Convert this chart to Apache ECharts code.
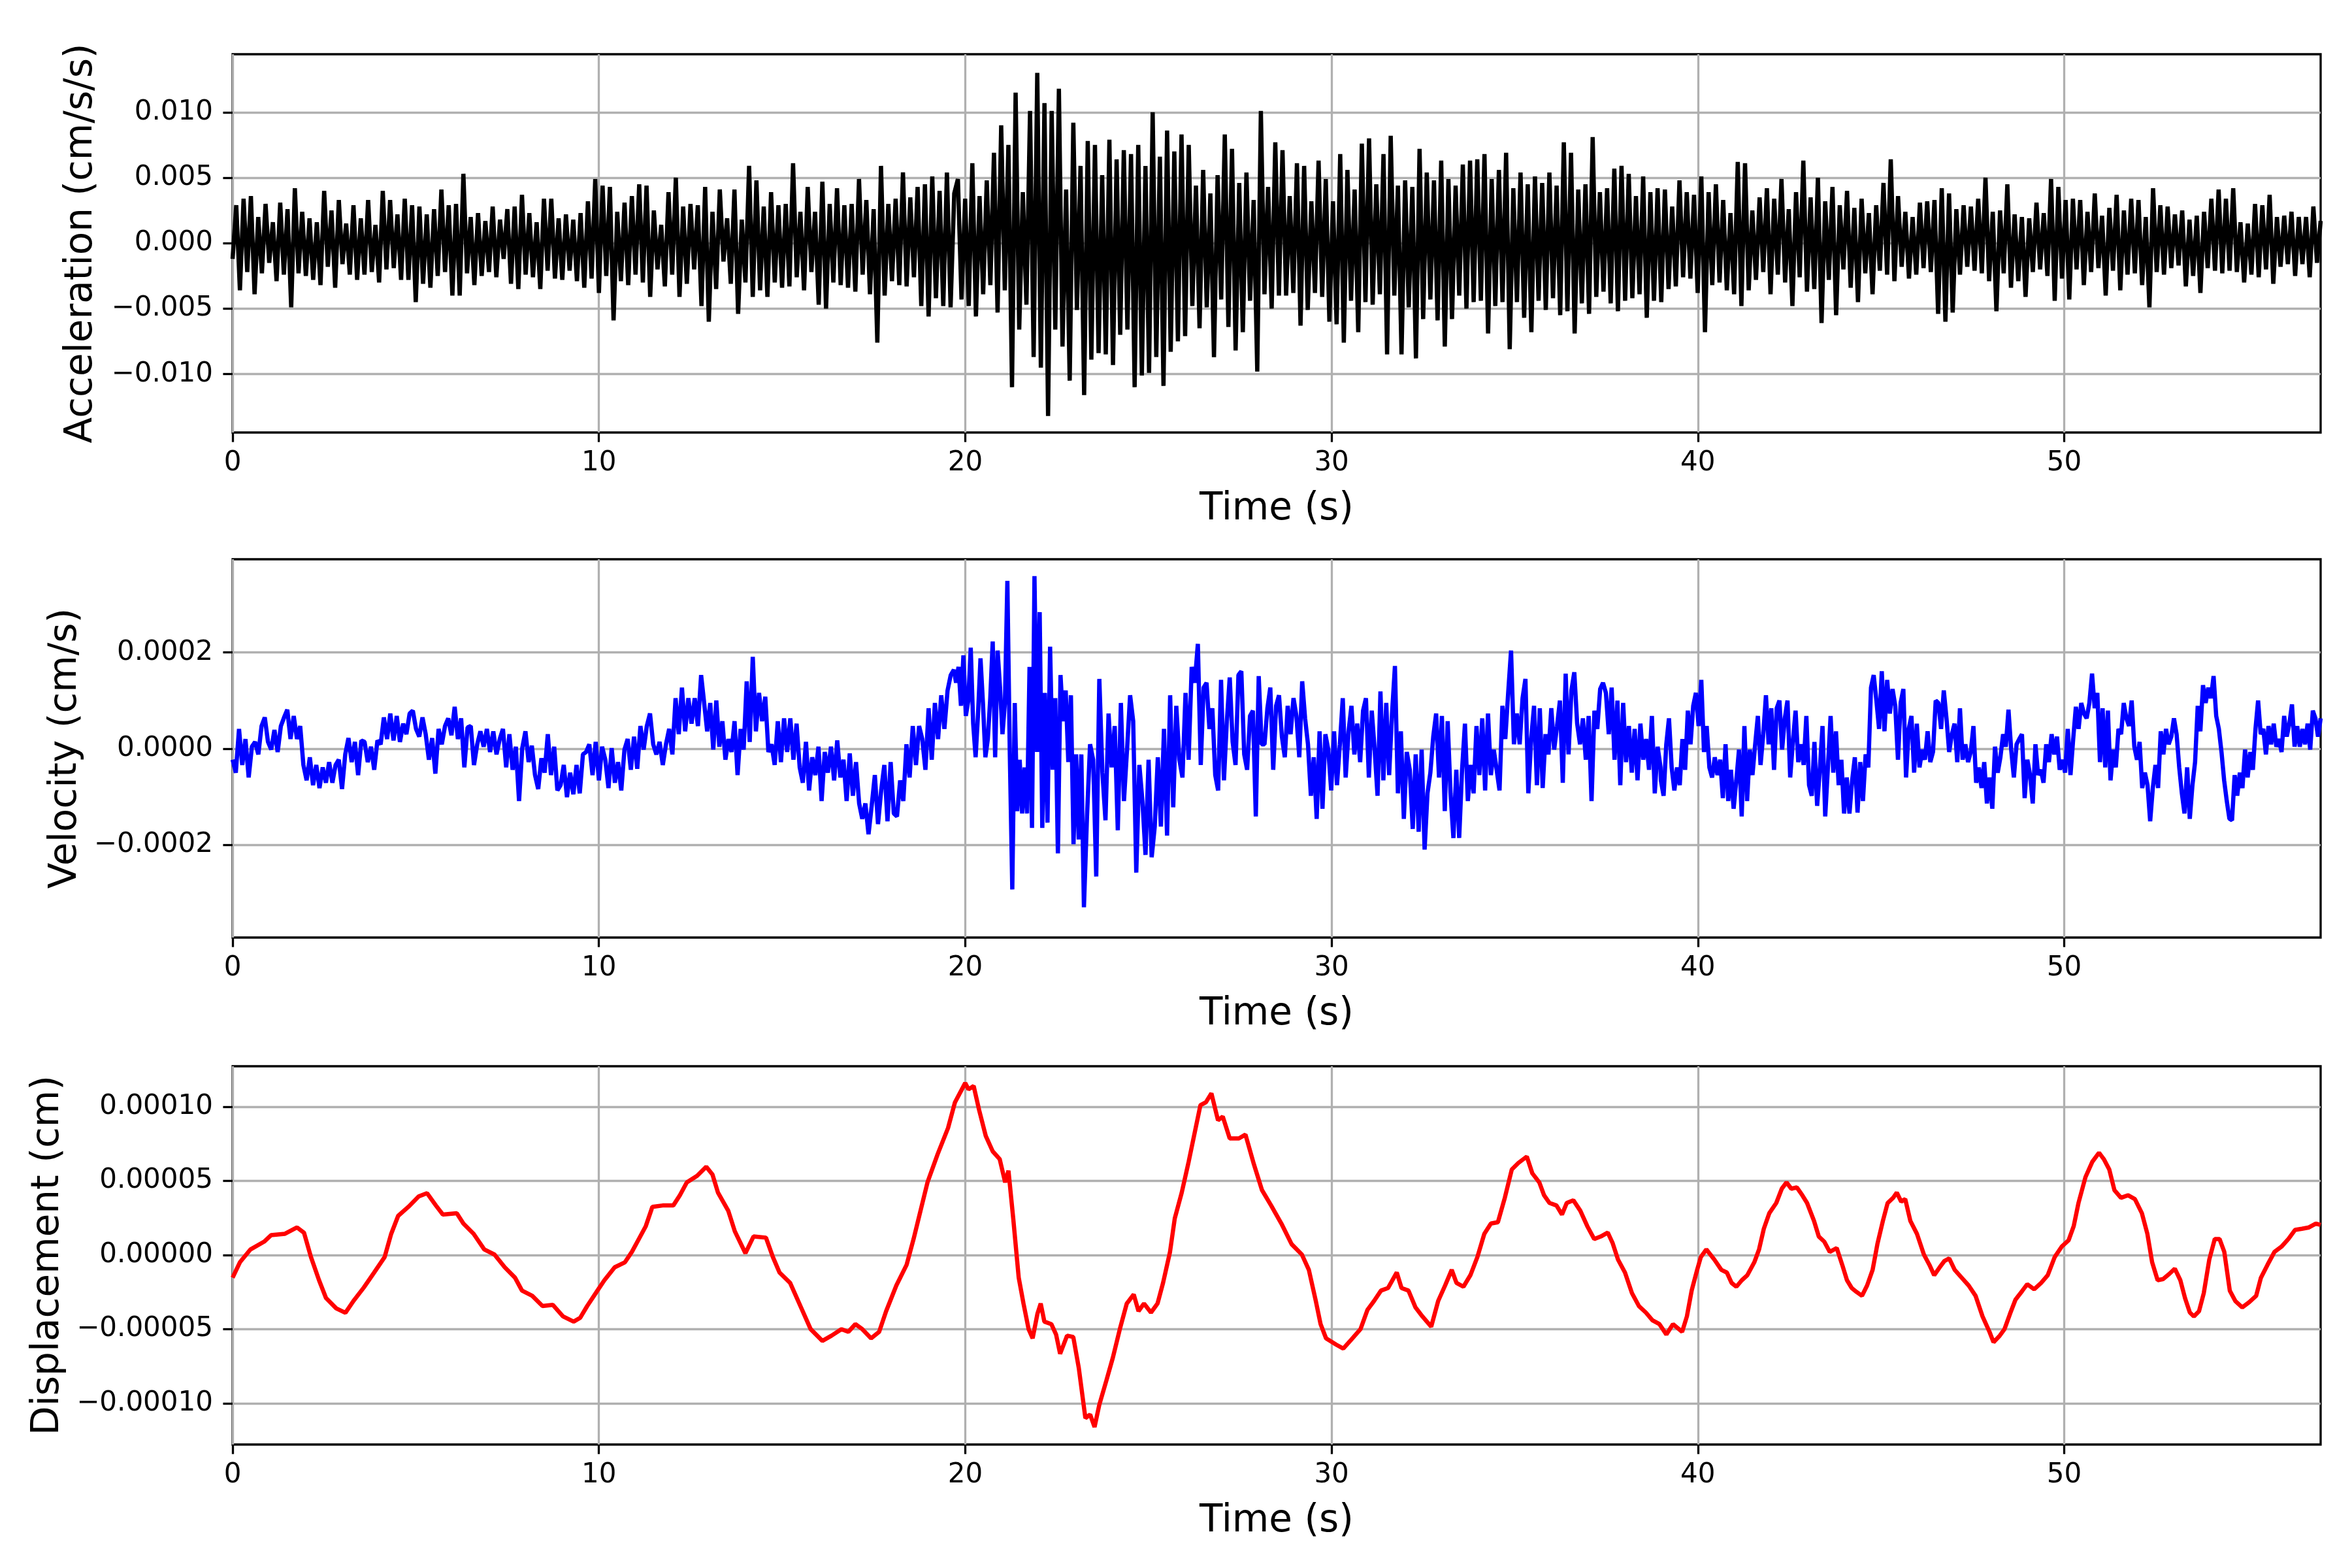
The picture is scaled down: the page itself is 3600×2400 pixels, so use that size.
<!DOCTYPE html>
<html>
<head>
    <meta charset="UTF-8">
    <script src="https://cdn.jsdelivr.net/npm/echarts/dist/echarts.min.js"></script>
    <style>
        html, body { margin: 0; padding: 0; background: #fff; }
        #container { width: 3600px; height: 2400px; }
    </style>
</head>
<body>
<div id="container"></div>

<script type="text/javascript">
    // tick values shown on the axes
    var timeTicks = [0, 10, 20, 30, 40, 50];
    var accelTicks = [-0.010, -0.005, 0, 0.005, 0.010];
    var velTicks = [-0.0002, 0, 0.0002];
    var dispTicks = [-0.00010, -0.00005, 0, 0.00005, 0.00010];

    // acceleration, in 1e-3 cm/s/s in three time spans
    var accelSpanA = [0, 19.7];
    var accelSegA = [-1.2, 2.9, -3.6, 3.4, -2.2, 3.6, -3.9, 2.0, -2.3, 3.0, -1.5, 1.6, -2.9, 3.1, -2.4, 2.6, -4.9, 4.2, -2.3, 2.4,
        -2.5, 1.9, -2.8, 1.6, -3.2, 4.0, -1.8, 2.5, -3.4, 3.3, -1.6, 1.5, -2.4, 2.9, -2.8, 1.9, -2.4, 3.3, -2.2, 1.4,
        -3.0, 4.0, -2.0, 3.3, -1.9, 2.2, -2.8, 3.4, -2.8, 2.9, -4.5, 2.8, -3.1, 2.2, -3.4, 2.6, -2.5, 4.1, -2.2, 2.9,
        -4.0, 3.0, -4.0, 5.3, -2.3, 2.0, -3.2, 2.3, -2.5, 1.7, -2.2, 2.8, -2.6, 1.8, -1.2, 2.6, -3.1, 2.8, -3.5, 3.7,
        -2.4, 2.3, -2.6, 1.6, -3.5, 3.4, -2.1, 3.4, -2.7, 1.9, -2.8, 2.2, -2.1, 1.8, -2.9, 2.3, -3.4, 3.2, -2.7, 4.9,
        -3.8, 4.4, -2.5, 4.3, -5.9, 2.4, -2.9, 3.1, -3.2, 3.6, -2.4, 4.5, -3.0, 4.4, -4.1, 2.5, -2.0, 1.4, -3.3, 3.9,
        -2.4, 5.0, -4.1, 2.8, -3.1, 3.0, -2.0, 2.9, -4.8, 4.3, -6.0, 2.4, -3.5, 4.1, -1.4, 1.9, -3.1, 4.1, -5.4, 1.8,
        -3.0, 5.9, -4.1, 4.8, -3.6, 2.8, -4.1, 3.9, -3.0, 2.9, -3.4, 3.0, -3.3, 6.1, -2.6, 2.4, -3.6, 4.3, -2.2, 2.4,
        -4.7, 4.7, -5.0, 3.0, -3.0, 4.2, -3.2, 2.9, -3.4, 3.0, -3.7, 4.9, -2.4, 3.3, -3.9, 2.6, -7.6, 5.9, -4.0, 3.0,
        -2.9, 3.4, -3.2, 5.4, -3.3, 3.5, -2.6, 4.3, -4.8, 4.5, -5.6, 5.1, -4.2, 4.0, -4.8, 5.4, -4.9, 3.8];
    var accelSpanB = [19.8, 38.9];
    var accelSegB = [4.9, -4.3, 3.4, -4.8, 6.1, -5.6, 3.6, -3.9, 4.8, -3.2, 6.9, -5.3, 9.0, -3.6, 7.5, -11.0, 11.5, -6.6, 3.9, -4.7,
        10.1, -8.7, 13.0, -9.5, 10.7, -13.2, 10.1, -6.6, 11.8, -7.9, 4.1, -10.5, 9.2, -5.1, 5.9, -11.6, 7.8, -8.9, 7.5, -8.4,
        5.2, -8.5, 7.9, -9.3, 6.4, -7.0, 7.1, -6.6, 6.8, -11.0, 7.5, -10.1, 5.9, -9.9, 10.0, -8.7, 6.6, -10.9, 8.6, -8.3,
        7.0, -7.5, 8.3, -7.1, 7.5, -4.8, 4.4, -6.5, 5.6, -4.9, 3.8, -8.7, 5.2, -4.3, 8.3, -6.4, 7.2, -8.2, 4.6, -6.8,
        5.4, -4.4, 3.3, -9.8, 10.1, -3.9, 4.3, -5.0, 7.7, -4.0, 7.1, -4.0, 3.6, -3.8, 6.1, -6.3, 5.9, -5.1, 3.2, -3.8,
        6.3, -4.1, 4.9, -6.0, 3.2, -6.2, 6.8, -7.6, 5.6, -4.4, 4.1, -6.8, 7.6, -4.5, 8.0, -4.7, 4.5, -3.9, 6.8, -8.5,
        8.2, -4.0, 4.4, -8.5, 4.8, -4.9, 4.3, -8.8, 7.2, -5.8, 5.4, -4.3, 4.8, -5.9, 6.3, -7.9, 4.9, -5.8, 4.4, -4.0,
        6.0, -5.0, 6.3, -4.5, 6.4, -4.4, 6.8, -6.9, 4.9, -4.8, 5.6, -4.5, 6.9, -8.1, 4.2, -4.5, 5.4, -5.7, 4.5, -6.8,
        5.1, -4.4, 4.6, -5.1, 5.4, -4.2, 4.4, -5.5, 7.7, -5.2, 6.9, -6.9, 4.1, -4.6, 4.5, -5.4, 8.1, -4.1, 3.9, -3.7,
        4.2, -4.6, 5.7, -5.2, 5.9, -4.4, 5.3, -4.2, 3.6, -3.9, 5.1, -5.7, 3.9, -4.4, 4.2];
    var accelSpanC = [39.0, 57.0];
    var accelSegC = [-4.5, 4.1, -3.5, 2.8, -3.3, 4.8, -2.6, 3.9, -2.7, 3.7, -3.8, 5.1, -6.8, 3.9, -3.2, 4.5, -3.0, 3.3, -3.6, 2.3,
        -3.9, 6.2, -4.8, 6.1, -3.6, 2.5, -2.8, 3.5, -2.2, 4.2, -3.9, 3.4, -2.4, 4.9, -3.0, 2.6, -4.8, 3.9, -2.6, 6.3,
        -3.7, 3.5, -3.5, 5.0, -6.1, 3.2, -2.8, 4.3, -5.5, 2.9, -2.0, 4.0, -3.4, 2.7, -4.5, 3.4, -2.3, 2.3, -3.9, 2.9,
        -2.1, 4.6, -2.4, 6.4, -2.9, 3.6, -1.8, 2.4, -2.7, 2.0, -2.4, 3.1, -1.9, 3.2, -2.2, 3.3, -5.4, 4.2, -6.0, 3.8,
        -5.3, 2.6, -2.4, 2.9, -1.8, 2.8, -2.1, 3.4, -2.3, 5.0, -2.9, 2.4, -5.2, 2.5, -2.3, 4.5, -3.4, 2.2, -2.9, 2.0,
        -4.1, 1.9, -2.2, 3.1, -2.0, 2.3, -2.5, 4.9, -4.4, 4.3, -2.7, 3.3, -4.3, 3.4, -2.0, 3.3, -3.2, 2.4, -2.2, 3.8,
        -1.9, 2.1, -4.0, 2.7, -2.1, 3.7, -3.6, 2.5, -2.4, 3.4, -2.3, 3.3, -3.2, 2.0, -4.9, 4.2, -2.2, 2.9, -2.4, 2.8,
        -1.9, 2.2, -1.7, 2.5, -3.3, 1.8, -2.5, 2.1, -3.8, 2.4, -1.9, 3.4, -2.1, 4.1, -2.3, 3.4, -2.1, 4.2, -2.2, 1.6,
        -3.0, 1.5, -2.4, 3.0, -2.6, 2.9, -2.0, 3.7, -3.1, 2.0, -1.8, 2.1, -1.6, 2.4, -2.5, 2.0, -1.6, 2.0, -2.6, 2.8,
        -1.5, 1.7];

    // velocity, in 1e-4 cm/s; anchors pin sample index -> time (s) at clear peaks
    var velAnchorsA = [[0, 0], [89, 7.82], [146, 12.79], [163, 14.20], [200, 17.36], [227, 19.69]];
    var velSegA = [-0.23, -0.5, 0.41, -0.34, 0.2, -0.6, 0.04, 0.14, -0.12, 0.47, 0.65, 0.14, -0.02, 0.39, -0.07, 0.47, 0.65, 0.81, 0.2, 0.68,
        0.2, 0.47, -0.34, -0.66, -0.18, -0.76, -0.34, -0.82, -0.39, -0.71, -0.28, -0.71, -0.34, -0.23, -0.84, -0.12, 0.22, -0.28, 0.14, -0.55,
        0.17, 0.14, -0.28, 0.04, -0.44, 0.17, 0.09, 0.65, 0.2, 0.73, 0.17, 0.68, 0.14, 0.52, 0.3, 0.73, 0.79, 0.41, 0.25, 0.65,
        0.3, -0.23, 0.22, -0.52, 0.41, 0.09, 0.47, 0.63, 0.28, 0.87, 0.2, 0.63, -0.39, 0.44, 0.47, -0.34, 0.09, 0.36, 0.04, 0.41,
        -0.07, 0.36, -0.12, 0.2, 0.41, -0.39, 0.3, -0.44, 0.04, -1.09, 0.01, 0.36, -0.28, 0.06, -0.55, -0.84, -0.2, -0.5, 0.3, -0.55,
        0.04, -0.87, -0.76, -0.34, -1.01, -0.5, -0.95, -0.34, -0.93, -0.12, -0.07, 0.09, -0.55, 0.14, -0.66, 0.04, -0.23, -0.82, 0.01, -0.71,
        -0.28, -0.87, -0.02, 0.2, -0.44, 0.25, -0.42, 0.47, -0.02, 0.47, 0.73, 0.09, -0.12, 0.14, -0.34, 0.09, 0.41, -0.12, 1.05, 0.3,
        1.27, 0.36, 1.05, 0.52, 1.05, 0.47, 1.53, 0.95, 0.36, 0.95, -0.02, 1.0, 0.04, 0.57, -0.23, 0.2, -0.07, 0.57, -0.55, 0.41,
        -0.02, 1.4, 0.14, 1.91, 0.36, 1.16, 0.57, 1.08, -0.07, 0.09, -0.34, 0.57, -0.28, 0.63, -0.07, 0.63, -0.23, 0.52, -0.39, -0.71,
        0.14, -0.87, -0.18, -0.55, 0.04, -1.09, -0.07, -0.5, 0.04, -0.66, 0.17, -0.6, -0.23, -1.09, -0.1, -0.98, -0.28, -1.14, -1.46, -1.14,
        -1.78, -1.19, -0.55, -1.57, -0.87, -0.34, -1.51, -0.28, -1.35, -1.41, -0.66, -1.09, 0.09, -0.6, 0.47, -0.34, 0.47, 0.2, -0.44, 0.84,
        -0.23, 0.95, 0.2, 1.11, 0.41, 1.21, 1.53, 1.64];
    var velAnchorsB = [[0, 19.75], [21, 21.15], [32, 21.89], [51, 23.24], [88, 26.35], [156, 31.73], [166, 32.54], [196, 34.90], [248, 38.98]];
    var velSegB = [1.37, 1.7, 0.89, 1.94, 0.68, 1.0, 2.1, 0.52, -0.18, 0.73, 1.88, 0.95, -0.18, 0.2, 1.05, 2.23, -0.18, 2.04, 1.27, 0.3,
        0.95, 3.49, -0.12, -2.93, 0.95, -1.3, -0.23, -1.35, -0.39, -1.35, 1.7, -1.65, 3.59, -0.07, 2.84, -1.65, 1.16, -1.54, 2.12, -0.44,
        1.05, -2.18, 1.53, 0.57, 1.21, -0.28, 1.11, -1.99, -0.12, -1.89, -0.12, -3.3, -1.41, 0.09, -0.23, -2.66, 1.45, -0.5, -1.49, 0.73,
        -0.39, 0.47, -1.7, 0.95, -1.09, -0.02, 1.11, 0.57, -2.58, -0.34, -1.09, -2.21, -0.23, -2.26, -1.62, -0.18, -1.62, 0.41, -1.81, 1.11,
        -1.22, 0.89, -0.23, -0.6, 1.16, -0.23, 1.7, 1.37, 2.18, -0.34, 1.27, 1.37, 0.41, 0.84, -0.55, -0.87, 1.43, -0.66, 0.57, 1.48,
        0.14, -0.34, 1.53, 1.61, -0.12, -0.44, 0.68, 0.79, -1.41, 1.51, 0.09, 0.09, 0.84, 1.27, -0.44, 0.89, 1.11, 0.25, -0.18, 0.89,
        0.3, 1.05, 0.68, -0.18, 1.4, 0.63, 0.09, -0.98, -0.18, -1.46, 0.36, -1.25, 0.3, -0.02, -0.87, 0.36, -0.76, 0.09, 1.05, -0.6,
        0.36, 0.89, -0.12, 0.52, -0.28, 0.79, 1.05, -0.6, 0.79, -0.02, -0.98, 1.19, -0.66, 0.95, -0.55, 0.73, 1.72, -0.93, 0.36, -1.46,
        -0.07, -0.44, -1.67, -0.12, -1.73, -0.02, -2.1, -0.93, -0.5, 0.25, 0.73, -0.6, 0.68, -1.3, 0.57, -0.93, -1.86, -0.44, -1.86, -0.44,
        0.52, -1.09, -0.34, -0.93, 0.47, -0.55, 0.63, -0.87, 0.73, -0.55, -0.02, -0.44, -0.87, 0.89, 0.2, 1.16, 2.04, 0.09, 0.73, 0.09,
        1.05, 1.45, -0.93, 0.2, 0.89, -0.76, 0.84, -0.82, 0.3, -0.12, 0.84, -0.02, 0.47, 1.0, -0.71, 1.56, -0.12, 1.21, 1.59, 0.52,
        0.09, 0.63, -0.23, 0.68, -1.09, 0.79, 0.41, 1.24, 1.37, 1.16, 0.3, 1.27, -0.23, 1.0, -0.76, 0.95, -0.28, 0.47, -0.5, 0.41,
        -0.66, 0.52, -0.23, 0.2, -0.44, 0.68, -0.93, 0.04, -0.39];
    var velAnchorsC = [[0, 38.99], [82, 45.02], [160, 50.76], [212, 54.51], [247, 57.0]];
    var velSegC = [-0.66, -0.98, 0.09, 0.63, -0.39, -0.87, -0.39, -0.76, 0.2, -0.44, 0.79, 0.09, 0.89, 1.16, 0.47, 1.43, -0.07, 0.47, -0.39, -0.6,
        -0.18, -0.55, -0.23, -1.03, 0.09, -1.09, -0.44, -1.25, -0.66, -0.02, -1.41, 0.47, -1.09, -0.02, -0.55, 0.09, 0.68, -0.34, 0.3, 1.11,
        0.09, 0.84, -0.44, 0.84, 1.0, -0.02, 0.63, 1.0, -0.6, 0.14, 0.79, -0.28, 0.09, -0.34, 0.68, -0.76, -0.98, 0.14, -1.19, -0.44,
        0.47, -1.41, -0.39, 0.68, -0.5, 0.36, -0.76, -0.23, -1.35, -0.6, -1.35, -0.66, -0.18, -1.33, -0.28, -1.09, -0.12, -0.39, 1.27, 1.53,
        1.0, 0.41, 1.61, 0.36, 1.43, 0.73, 1.24, 0.89, -0.23, 0.95, 1.24, -0.6, 0.41, 0.68, -0.5, 0.52, -0.39, -0.02, -0.23, 0.36,
        -0.28, -0.07, 1.0, 0.95, 0.41, 1.21, 0.63, -0.07, 0.3, 0.52, -0.28, 0.84, -0.23, 0.09, -0.28, -0.07, 0.47, -0.71, -0.39, -0.82,
        -0.28, -1.14, -0.6, -1.25, 0.04, -0.5, -0.18, 0.3, 0.04, 0.81, -0.02, -0.6, 0.09, 0.2, 0.3, -1.03, -0.23, -0.55, -1.14, 0.09,
        -0.55, -0.44, -0.71, 0.09, -0.28, 0.3, -0.12, 0.25, -0.44, -0.23, -0.5, 0.41, -0.55, 0.2, 0.87, 0.41, 0.95, 0.73, 0.63, 0.95,
        1.56, 0.84, 1.16, -0.28, 0.84, -0.39, 0.79, -0.66, -0.02, -0.39, 0.41, 0.3, 0.95, 0.63, 0.47, 1.0, 0.04, -0.23, 0.14, -0.82,
        -0.5, -0.76, -1.51, -0.82, -0.34, -0.82, 0.36, -0.12, 0.41, 0.09, 0.25, 0.63, 0.3, -0.39, -0.93, -1.35, -0.39, -1.46, -0.76, -0.28,
        0.89, 0.36, 1.32, 0.95, 1.27, 1.05, 1.51, 0.68, 0.41, -0.07, -0.66, -1.09, -1.46, -1.49, -0.55, -0.98, -0.5, -0.82, -0.02, -0.6,
        -0.07, -0.44, 0.41, 1.0, 0.3, 0.41, -0.12, 0.47, 0.09, 0.52, 0.04, 0.2, -0.07, 0.68, 0.25, 0.52, 0.92, 0.04, 0.47, 0.04,
        0.41, 0.09, 0.52, -0.02, 0.79, 0.63, 0.25, 0.63];

    // displacement, time (s) and value in 1e-5 cm
    var dispTime = [0, 0.2, 0.49, 0.86, 1.05, 1.43, 1.76, 1.95, 2.14, 2.36, 2.55, 2.83, 3.08, 3.3, 3.58, 3.86, 4.15, 4.33, 4.52, 4.8,
        5.08, 5.31, 5.55, 5.74, 6.12, 6.3, 6.58, 6.87, 7.15, 7.43, 7.71, 7.9, 8.18, 8.46, 8.74, 9.02, 9.31, 9.49, 9.68, 9.96,
        10.15, 10.43, 10.71, 10.9, 11.09, 11.28, 11.46, 11.74, 12.03, 12.21, 12.4, 12.68, 12.93, 13.1, 13.25, 13.53, 13.71, 14.0, 14.22, 14.56,
        14.75, 14.93, 15.22, 15.5, 15.78, 16.1, 16.35, 16.62, 16.81, 17.0, 17.19, 17.43, 17.65, 17.84, 18.12, 18.4, 18.59, 18.78, 18.97, 19.25,
        19.53, 19.72, 20.0, 20.09, 20.23, 20.38, 20.56, 20.75, 20.94, 21.09, 21.18, 21.31, 21.46, 21.59, 21.73, 21.84, 21.97, 22.06, 22.16, 22.35,
        22.48, 22.59, 22.78, 22.95, 23.1, 23.28, 23.41, 23.53, 23.66, 23.85, 24.03, 24.22, 24.41, 24.6, 24.73, 24.88, 25.07, 25.25, 25.4, 25.59,
        25.72, 25.91, 26.1, 26.29, 26.42, 26.57, 26.72, 26.9, 27.03, 27.22, 27.47, 27.65, 27.88, 28.1, 28.35, 28.63, 28.91, 29.19, 29.38, 29.57,
        29.7, 29.85, 30.13, 30.32, 30.54, 30.79, 30.98, 31.16, 31.35, 31.54, 31.78, 31.91, 32.1, 32.29, 32.48, 32.72, 32.91, 33.1, 33.28, 33.41,
        33.6, 33.79, 33.98, 34.17, 34.35, 34.54, 34.73, 34.92, 35.1, 35.33, 35.48, 35.67, 35.8, 35.95, 36.14, 36.29, 36.42, 36.6, 36.79, 36.98,
        37.17, 37.35, 37.54, 37.67, 37.82, 38.01, 38.2, 38.39, 38.58, 38.76, 38.95, 39.14, 39.32, 39.57, 39.7, 39.83, 39.98, 40.08, 40.23, 40.45,
        40.64, 40.79, 40.92, 41.05, 41.2, 41.35, 41.54, 41.67, 41.8, 41.95, 42.14, 42.29, 42.42, 42.55, 42.7, 42.85, 42.98, 43.17, 43.3, 43.45,
        43.6, 43.79, 43.94, 44.07, 44.2, 44.33, 44.48, 44.62, 44.77, 44.9, 45.05, 45.18, 45.33, 45.43, 45.55, 45.66, 45.8, 45.98, 46.17, 46.32,
        46.45, 46.6, 46.73, 46.86, 47.01, 47.2, 47.39, 47.58, 47.77, 47.96, 48.07, 48.24, 48.37, 48.52, 48.67, 48.86, 48.99, 49.18, 49.37, 49.55,
        49.74, 49.93, 50.12, 50.26, 50.39, 50.58, 50.77, 50.95, 51.08, 51.23, 51.37, 51.55, 51.74, 51.93, 52.12, 52.27, 52.4, 52.55, 52.7, 52.87,
        53.02, 53.17, 53.3, 53.43, 53.54, 53.68, 53.81, 53.96, 54.11, 54.24, 54.37, 54.52, 54.67, 54.86, 55.05, 55.24, 55.37, 55.55, 55.74, 55.93,
        56.12, 56.3, 56.49, 56.68, 56.87, 57.0];
    var dispValue = [-1.53, -0.49, 0.38, 0.9, 1.34, 1.43, 1.86, 1.5, -0.14, -1.7, -2.9, -3.6, -3.9, -3.1, -2.2, -1.2, -0.14, 1.43, 2.64, 3.25,
        3.95, 4.17, 3.34, 2.73, 2.82, 2.12, 1.43, 0.38, 0.03, -0.83, -1.53, -2.4, -2.75, -3.44, -3.36, -4.14, -4.49, -4.23, -3.44, -2.4,
        -1.7, -0.83, -0.49, 0.21, 1.08, 1.95, 3.25, 3.34, 3.34, 4.03, 4.9, 5.34, 5.95, 5.43, 4.21, 2.99, 1.6, 0.12, 1.25, 1.17,
        -0.14, -1.18, -1.88, -3.44, -5.0, -5.79, -5.44, -5.0, -5.18, -4.66, -5.0, -5.62, -5.18, -3.79, -2.05, -0.66, 1.08, 2.99, 4.9, 6.82,
        8.56, 10.3, 11.6, 11.17, 11.4, 9.77, 8.03, 6.99, 6.47, 4.9, 5.69, 2.47, -1.53, -3.27, -5.0, -5.62, -3.97, -3.27, -4.49, -4.66,
        -5.36, -6.66, -5.44, -5.53, -7.62, -11.0, -10.76, -11.6, -10.1, -8.49, -6.92, -5.0, -3.27, -2.66, -3.79, -3.27, -3.88, -3.27, -1.88, 0.21,
        2.47, 4.21, 6.3, 8.56, 10.1, 10.3, 10.9, 9.08, 9.34, 7.86, 7.86, 8.12, 6.12, 4.38, 3.34, 2.12, 0.73, 0.03, -1.0, -3.1,
        -4.66, -5.62, -6.05, -6.31, -5.7, -5.0, -3.7, -3.1, -2.4, -2.23, -1.18, -2.23, -2.4, -3.53, -4.14, -4.83, -3.1, -2.05, -1.0, -1.88,
        -2.14, -1.36, -0.14, 1.43, 2.12, 2.21, 3.86, 5.77, 6.21, 6.64, 5.51, 4.9, 4.03, 3.51, 3.34, 2.73, 3.51, 3.69, 2.99, 1.95,
        1.08, 1.25, 1.51, 0.82, -0.31, -1.18, -2.57, -3.44, -3.88, -4.4, -4.66, -5.36, -4.66, -5.18, -4.14, -2.4, -1.0, -0.14, 0.38, -0.31,
        -1.0, -1.18, -1.88, -2.14, -1.7, -1.36, -0.49, 0.38, 1.77, 2.82, 3.51, 4.47, 4.9, 4.47, 4.56, 4.03, 3.51, 2.3, 1.25, 0.9,
        0.21, 0.47, -0.66, -1.7, -2.23, -2.49, -2.75, -2.05, -1.0, 0.73, 2.3, 3.51, 3.86, 4.21, 3.6, 3.77, 2.3, 1.43, 0.03, -0.66,
        -1.36, -0.83, -0.4, -0.23, -1.0, -1.53, -2.05, -2.75, -4.14, -5.18, -5.88, -5.44, -5.0, -3.97, -3.01, -2.4, -1.97, -2.31, -1.88, -1.36,
        -0.14, 0.56, 0.99, 1.95, 3.51, 5.25, 6.3, 6.9, 6.47, 5.77, 4.38, 3.86, 4.03, 3.77, 2.82, 1.43, -0.49, -1.7, -1.62, -1.27,
        -0.92, -1.7, -2.92, -3.88, -4.14, -3.79, -2.57, -0.31, 1.08, 1.08, 0.21, -2.4, -3.1, -3.53, -3.18, -2.75, -1.53, -0.66, 0.21, 0.56,
        1.08, 1.69, 1.77, 1.86, 2.12, 2.03];

    var FONT = 'DejaVu Sans';
    var T_MAX = 57;

    // time of each reading: piecewise linear between [index, time] anchors
    function anchored(values, anchors, scale) {
        var out = [];
        var k = 0;
        for (var i = 0; i < values.length; i++) {
            while (k < anchors.length - 2 && i > anchors[k + 1][0]) k++;
            var a = anchors[k], b = anchors[k + 1];
            var t = a[1] + (b[1] - a[1]) * (i - a[0]) / (b[0] - a[0]);
            out.push([t, values[i] * scale]);
        }
        return out;
    }

    function spread(values, span, scale) {
        return anchored(values, [[0, span[0]], [values.length - 1, span[1]]], scale);
    }

    var accelData = spread(accelSegA, accelSpanA, 1e-3)
        .concat(spread(accelSegB, accelSpanB, 1e-3))
        .concat(spread(accelSegC, accelSpanC, 1e-3));
    var velData = anchored(velSegA, velAnchorsA, 1e-4)
        .concat(anchored(velSegB, velAnchorsB, 1e-4))
        .concat(anchored(velSegC, velAnchorsC, 1e-4));
    var dispData = dispTime.map(function (t, i) { return [t, dispValue[i] * 1e-5]; });

    function signed(dec) {
        return function (v) {
            var s = Math.abs(v).toFixed(dec);
            return (v < -1e-12 ? '\u2212' : '') + s;
        };
    }

    var tickStyle = {color: '#000', width: 3.3};
    var gridLine = {show: true, lineStyle: {color: '#b0b0b0', width: 3.3}};

    function xAxisFor(idx) {
        return {
            type: 'value', gridIndex: idx, min: 0, max: T_MAX,
            name: 'Time (s)', nameLocation: 'middle', nameGap: 89,
            nameTextStyle: {fontSize: 58, fontFamily: FONT, color: '#000'},
            axisLine: {show: false, onZero: false},
            axisTick: {show: true, inside: false, length: 14.6, lineStyle: tickStyle, customValues: timeTicks},
            axisLabel: {customValues: timeTicks, fontSize: 42, fontFamily: FONT, color: '#000', margin: 26},
            splitLine: gridLine
        };
    }

    function yAxisFor(idx, name, ticks, lo, hi, dec, gap) {
        return {
            type: 'value', gridIndex: idx, min: lo, max: hi,
            name: name, nameLocation: 'middle', nameGap: gap,
            nameTextStyle: {fontSize: 58, fontFamily: FONT, color: '#000'},
            axisLine: {show: false, onZero: false},
            axisTick: {show: true, inside: false, length: 14.6, lineStyle: tickStyle, customValues: ticks},
            axisLabel: {customValues: ticks, fontSize: 42, fontFamily: FONT, color: '#000', margin: 30, formatter: signed(dec)},
            splitLine: gridLine
        };
    }

    function gridFor(top) {
        return {left: 356, top: top, width: 3196, height: 579, show: true,
            borderColor: '#000', borderWidth: 3.3, backgroundColor: 'transparent'};
    }

    function lineSeries(idx, data, color) {
        return {
            type: 'line', xAxisIndex: idx, yAxisIndex: idx, data: data,
            showSymbol: false, symbol: 'none', clip: true,
            lineStyle: {color: color, width: 6.5}
        };
    }

    var dom = document.getElementById('container');
    var myChart = echarts.init(dom, null, {renderer: 'canvas', devicePixelRatio: 1});

    var option = {
        animation: false,
        backgroundColor: '#fff',
        grid: [gridFor(83), gridFor(856), gridFor(1632)],
        xAxis: [xAxisFor(0), xAxisFor(1), xAxisFor(2)],
        yAxis: [
            yAxisFor(0, 'Acceleration (cm/s/s)', accelTicks, -0.01446, 0.01443, 3, 202),
            yAxisFor(1, 'Velocity (cm/s)', velTicks, -0.000393, 0.000394, 4, 226),
            yAxisFor(2, 'Displacement (cm)', dispTicks, -0.0001278, 0.0001273, 5, 253)
        ],
        series: [
            lineSeries(0, accelData, '#000000'),
            lineSeries(1, velData, '#0000ff'),
            lineSeries(2, dispData, '#ff0000')
        ]
    };

    myChart.setOption(option);
</script>
</body>
</html>
